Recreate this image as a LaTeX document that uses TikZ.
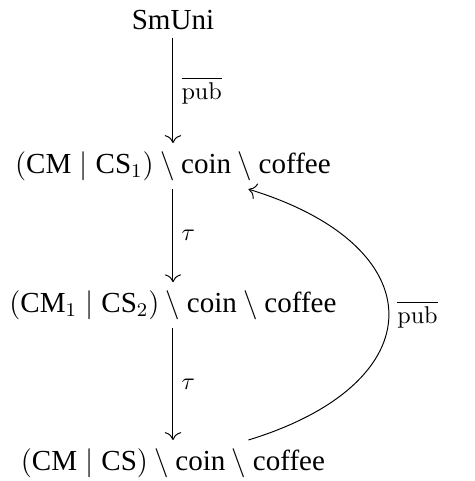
\documentclass[tikz,border=0pt]{standalone}
\usepackage{amsmath, amssymb}
\usepackage[no-math]{fontspec}
\setmainfont{Liberation Serif}
\usepackage{tikz}
\usetikzlibrary{arrows.meta}

\begin{document}
\begin{tikzpicture}[
    >={To[scale=1.3]},
    state/.style={font=\large},
    act/.style={midway, right}
  ]
    \useasboundingbox (0,0) rectangle (6.89,-6.98);

    % Processes
    \node[state] (SmUni) at (2.51,-0.29) {SmUni};
    \node[state] (P1) at (2.51,-2.41) {$(\text{CM} \mid \text{CS}_1) \setminus \text{coin} \setminus \text{coffee}$};
    \node[state] (P2) at (2.51,-4.43) {$(\text{CM}_1 \mid \text{CS}_2) \setminus \text{coin} \setminus \text{coffee}$};
    \node[state] (P3) at (2.51,-6.72) {$(\text{CM} \mid \text{CS}) \setminus \text{coin} \setminus \text{coffee}$};

    % Transitions
    \draw[->] (SmUni) -- (P1) node[act] {$\overline{\mathrm{pub}}$};
    \draw[->] (P1) -- (P2) node[act] {$\tau$};
    \draw[->] (P2) -- (P3) node[act] {$\tau$};
    \draw[->] (P3) to[out=17, in=-17, looseness=2] node[act] {$\overline{\mathrm{pub}}$} (P1);
\end{tikzpicture}
\end{document}
